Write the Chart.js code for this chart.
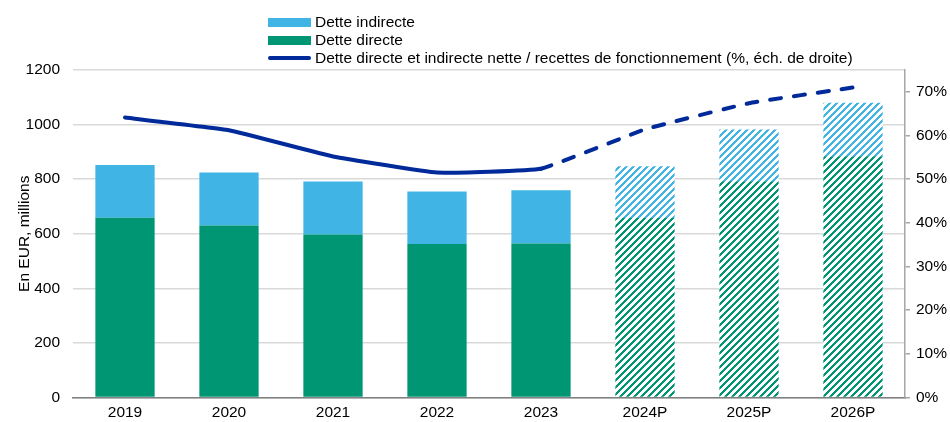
<!DOCTYPE html>
<html>
<head>
<meta charset="utf-8">
<script src="https://cdn.jsdelivr.net/npm/chart.js@4.4.1/dist/chart.umd.min.js"></script>
<style>
  body { margin: 0; background: #fff; font-family: "Liberation Sans", Arial, sans-serif; }
  #wrap { position: relative; width: 950px; height: 422px; }
  #legend { position: absolute; left: 268px; top: 13px; font-size: 15.5px; color: #000; }
  .item { height: 18px; display: flex; align-items: center; }
  .swatch { width: 43px; height: 9px; margin-right: 4px; }
  .swatch.line { height: 4px; border-radius: 2px; }
</style>
</head>
<body>
<div id="wrap">
  <canvas id="chart" width="950" height="422"></canvas>
  <div id="legend"></div>
</div>
<script>
var years = ['2019', '2020', '2021', '2022', '2023', '2024P', '2025P', '2026P'];
var detteDirecte = [659, 630, 597, 562, 564, 658, 792, 884];
var detteIndirecte = [193, 194, 194, 193, 195, 189, 190, 196];
var ratio = [0.641, 0.612, 0.552, 0.515, 0.524, 0.614, 0.674, 0.710];
var firstProjection = 5;

var blue = '#41b4e6';
var green = '#009673';
var navy = '#00299a';

function hatch(color) {
  var c = document.createElement('canvas');
  c.width = 7; c.height = 7;
  var g = c.getContext('2d');
  g.fillStyle = '#ffffff';
  g.fillRect(0, 0, 7, 7);
  g.fillStyle = color;
  for (var x = 0; x < 7; x++) {
    for (var y = 0; y < 7; y++) {
      if ((x + y) % 7 < 3) g.fillRect(x, y, 1, 1);
    }
  }
  return g.createPattern(c, 'repeat');
}

function fills(color) {
  var p = hatch(color);
  return years.map(function(y, i) { return i >= firstProjection ? p : color; });
}

Chart.defaults.font.family = '"Liberation Sans", Arial, sans-serif';
Chart.defaults.font.size = 15.5;
Chart.defaults.color = '#000';

var ctx = document.getElementById('chart').getContext('2d');
var myChart = new Chart(ctx, {
  type: 'bar',
  data: {
    labels: years,
    datasets: [
      {
        type: 'line',
        label: 'Dette directe et indirecte nette / recettes de fonctionnement (%, éch. de droite)',
        data: ratio,
        yAxisID: 'y1',
        borderColor: navy,
        backgroundColor: navy,
        borderWidth: 4,
        borderCapStyle: 'round',
        pointRadius: 0,
        tension: 0.1,
        order: 0,
        segment: {
          borderDash: function(c) { return c.p0DataIndex >= firstProjection - 1 ? [11, 13] : undefined; }
        }
      },
      {
        label: 'Dette directe',
        data: detteDirecte,
        backgroundColor: fills(green),
        stack: 's',
        order: 1
      },
      {
        label: 'Dette indirecte',
        data: detteIndirecte,
        backgroundColor: fills(blue),
        stack: 's',
        order: 1
      }
    ]
  },
  options: {
    responsive: false,
    animation: false,
    layout: { padding: { top: 70, right: 0, left: 0, bottom: 0 } },
    datasets: { bar: { categoryPercentage: 1, barPercentage: 0.57 } },
    plugins: { legend: { display: false }, tooltip: { enabled: false } },
    scales: {
      x: {
        stacked: true,
        grid: { display: false, drawTicks: false },
        border: { color: '#7f7f7f', width: 1.5 },
        ticks: { padding: 6 },
        afterFit: function(s) { s.height = 24.5; }
      },
      y: {
        stacked: true,
        min: 0, max: 1200,
        ticks: { stepSize: 200, padding: 13, callback: function(v) { return String(v); } },
        grid: { color: '#d9d9d9', lineWidth: 1.5, drawTicks: false },
        border: { display: false },
        title: { display: true, text: 'En EUR, millions', padding: { top: 15, bottom: 2 } },
        afterFit: function(s) { s.width = 73; }
      },
      y1: {
        position: 'right',
        min: 0, max: 0.75,
        afterBuildTicks: function(s) {
          s.ticks = s.ticks.filter(function(t) { return Math.abs(t.value * 10 - Math.round(t.value * 10)) < 1e-6; });
        },
        ticks: {
          stepSize: 0.1,
          padding: 6,
          callback: function(v) { return Math.round(v * 100) + '%'; }
        },
        grid: { drawOnChartArea: false, tickLength: 5, color: '#a6a6a6', lineWidth: 1.5 },
        border: { color: '#a6a6a6', width: 1.5 },
        afterFit: function(s) { s.width = 45; }
      }
    }
  }
});

// legend in the same order as the reference
var legend = document.getElementById('legend');
[
  { label: myChart.data.datasets[2].label, color: blue, line: false },
  { label: myChart.data.datasets[1].label, color: green, line: false },
  { label: myChart.data.datasets[0].label, color: navy, line: true }
].forEach(function(it) {
  var row = document.createElement('div');
  row.className = 'item';
  var sw = document.createElement('span');
  sw.className = 'swatch' + (it.line ? ' line' : '');
  sw.style.background = it.color;
  var tx = document.createElement('span');
  tx.textContent = it.label;
  row.appendChild(sw);
  row.appendChild(tx);
  legend.appendChild(row);
});
</script>
</body>
</html>
